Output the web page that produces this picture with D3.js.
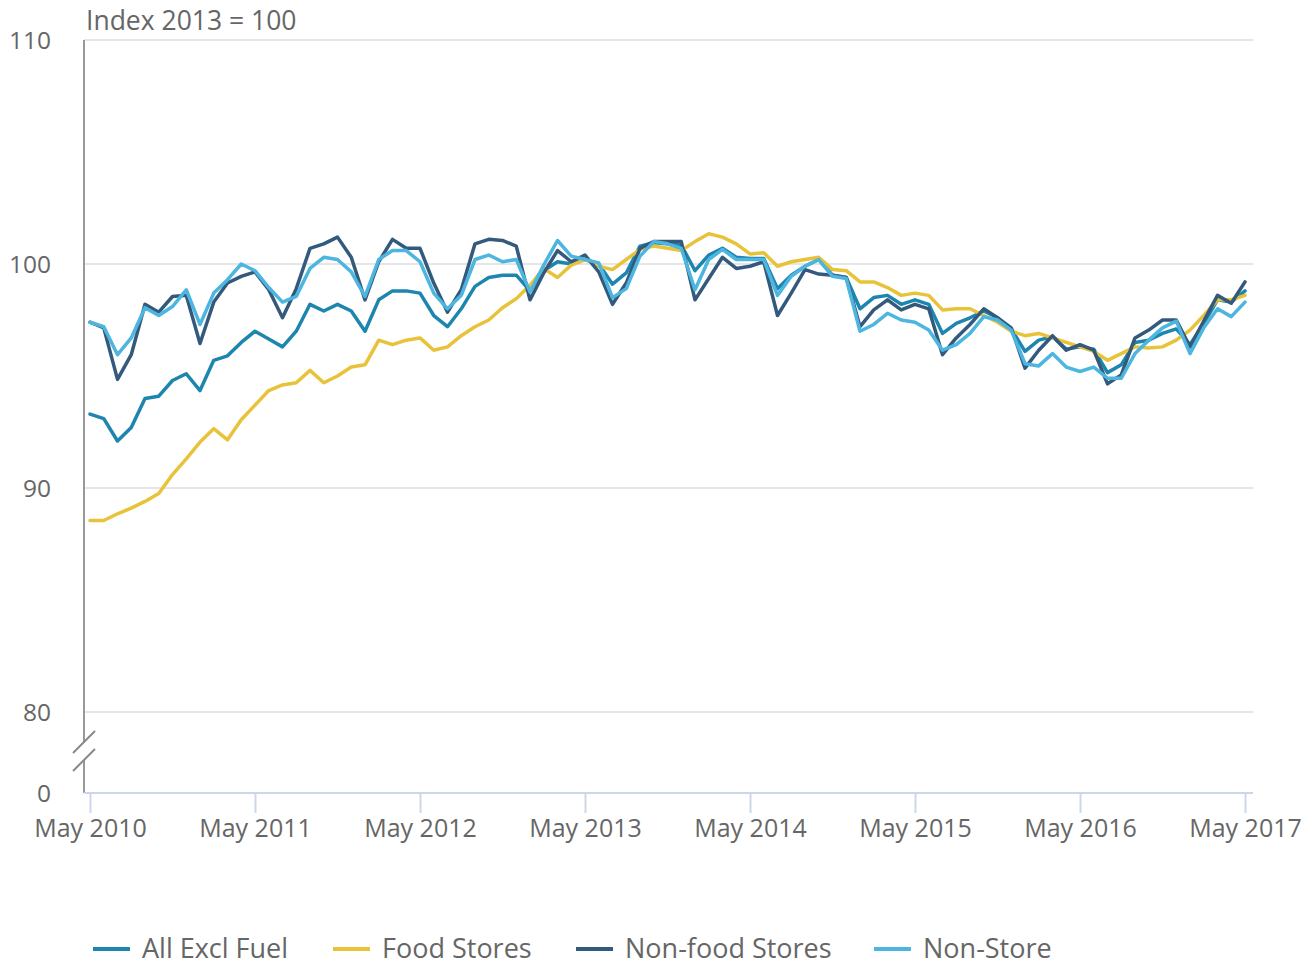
<!DOCTYPE html>
<html>
<head>
<meta charset="utf-8">
<script src="https://cdn.jsdelivr.net/npm/d3@7"></script>
<style>
  html, body { margin: 0; padding: 0; background: #fff; }
  svg { display: block; font-family: "Open Sans", sans-serif; }
</style>
</head>
<body>
<div id="chart"></div>
<script>
// monthly index values, May 2010 .. May 2017 (85 months)
const allExclFuel = [
  93.3, 93.1, 92.1, 92.7, 94.0, 94.1, 94.8, 95.1, 94.35, 95.7, 95.9, 96.5, 97.0, 96.65, 96.3, 97.0, 98.2, 97.9, 98.2,
  97.9, 97.0, 98.4, 98.8, 98.8, 98.7, 97.7, 97.2, 98.0, 99.0, 99.4, 99.5, 99.5, 98.8, 99.7, 100.1, 100.0, 100.2,
  100.0, 99.1, 99.6, 100.8, 100.95, 100.9, 100.85, 99.7, 100.4, 100.7, 100.3, 100.25, 100.25, 98.9, 99.5, 99.9, 100.2,
  99.5, 99.4, 98.0, 98.5, 98.6, 98.2, 98.4, 98.2, 96.9, 97.35, 97.6, 97.9, 97.6, 97.1, 96.1, 96.6, 96.75,
  96.2, 96.3, 96.2, 95.15, 95.5, 96.5, 96.6, 96.9, 97.1, 96.4, 97.35, 98.4, 98.3, 98.8
];
const foodStores = [
  88.55, 88.55, 88.85, 89.1, 89.4, 89.75, 90.6, 91.3, 92.05, 92.65, 92.15, 93.05, 93.7, 94.35, 94.6, 94.7, 95.25, 94.7, 95.0,
  95.4, 95.5, 96.6, 96.4, 96.6, 96.7, 96.15, 96.3, 96.8, 97.2, 97.5, 98.05, 98.45, 99.05, 99.8, 99.4, 99.95, 100.2,
  99.9, 99.75, 100.2, 100.65, 100.8, 100.7, 100.6, 101.0, 101.35, 101.2, 100.9, 100.45, 100.5, 99.9, 100.1, 100.2, 100.3,
  99.75, 99.7, 99.2, 99.2, 98.95, 98.6, 98.7, 98.6, 97.95, 98.0, 98.0, 97.7, 97.4, 97.0, 96.8, 96.9, 96.7,
  96.5, 96.3, 96.1, 95.7, 96.0, 96.3, 96.25, 96.3, 96.6, 97.05, 97.7, 98.4, 98.4, 98.6
];
const nonFoodStores = [
  97.4, 97.15, 94.85, 95.95, 98.2, 97.85, 98.55, 98.6, 96.45, 98.3, 99.15, 99.45, 99.65, 98.85, 97.6, 98.9, 100.7, 100.9, 101.2,
  100.3, 98.4, 100.1, 101.1, 100.7, 100.7, 99.15, 97.85, 98.85, 100.9, 101.1, 101.05, 100.8, 98.4, 99.6, 100.6, 100.1, 100.4,
  99.65, 98.2, 99.15, 100.7, 101.0, 101.0, 101.0, 98.4, 99.35, 100.3, 99.8, 99.9, 100.1, 97.7, 98.7, 99.75, 99.55,
  99.5, 99.4, 97.2, 97.95, 98.4, 97.95, 98.2, 98.0, 95.95, 96.7, 97.3, 98.0, 97.6, 97.15, 95.35, 96.15, 96.8,
  96.15, 96.4, 96.15, 94.65, 95.05, 96.7, 97.05, 97.5, 97.5, 96.3, 97.45, 98.6, 98.25, 99.2
];
const nonStore = [
  97.4, 97.2, 95.95, 96.7, 98.05, 97.7, 98.1, 98.85, 97.3, 98.7, 99.3, 100.0, 99.7, 98.95, 98.3, 98.55, 99.8, 100.3, 100.2,
  99.65, 98.55, 100.2, 100.6, 100.6, 100.1, 98.7, 98.0, 98.6, 100.2, 100.4, 100.1, 100.2, 98.75, 99.95, 101.05, 100.35, 100.2,
  100.05, 98.5, 98.9, 100.35, 101.0, 100.9, 100.7, 98.85, 100.2, 100.65, 100.2, 100.2, 100.2, 98.6, 99.45, 99.9, 100.2,
  99.45, 99.35, 97.0, 97.3, 97.8, 97.5, 97.4, 97.05, 96.15, 96.4, 96.9, 97.65, 97.5, 97.05, 95.55, 95.45, 96.0,
  95.4, 95.2, 95.4, 94.9, 94.9, 96.0, 96.6, 97.15, 97.45, 96.0, 97.15, 98.0, 97.65, 98.3
];
const seriesNames = ["All Excl Fuel", "Food Stores", "Non-food Stores", "Non-Store"];
const seriesColors = ["#1d86ae", "#e8c33a", "#335a7d", "#4cb6e0"];
const xTickLabels = ["May 2010", "May 2011", "May 2012", "May 2013", "May 2014", "May 2015", "May 2016", "May 2017"];
const yTicks = [0, 80, 90, 100, 110];

const width = 1315, height = 961;
const plot = { left: 84, right: 1253, top: 40, bottom: 793 };

const svg = d3.select("#chart").append("svg")
  .attr("width", width)
  .attr("height", height);

const xScale = d3.scaleLinear().domain([0, 84]).range([90, 1245]);
// broken axis: 0 -> 80 squeezed into the bottom strip
const yScale = d3.scaleLinear().domain([0, 80, 110]).range([plot.bottom, 712, plot.top]);

// grid lines (80..110)
svg.append("g")
  .selectAll("line")
  .data(yTicks.filter((t) => t >= 80))
  .join("line")
  .attr("x1", plot.left)
  .attr("x2", plot.right)
  .attr("y1", (d) => yScale(d))
  .attr("y2", (d) => yScale(d))
  .attr("stroke", "#e6e6e6")
  .attr("stroke-width", 2);

// y labels
svg.append("g")
  .selectAll("text")
  .data(yTicks)
  .join("text")
  .attr("x", 51)
  .attr("y", (d) => yScale(d))
  .attr("dy", "0.35em")
  .attr("text-anchor", "end")
  .attr("fill", "#666")
  .attr("font-size", 24.5)
  .text((d) => d);

svg.append("text")
  .attr("x", 86)
  .attr("y", 30)
  .attr("fill", "#666")
  .attr("font-size", 26.5)
  .text("Index 2013 = 100");

// y axis line with break
const breakTop = 742, breakBottom = 760;
svg.append("line")
  .attr("x1", plot.left).attr("x2", plot.left)
  .attr("y1", plot.top).attr("y2", breakTop)
  .attr("stroke", "#999").attr("stroke-width", 2);
svg.append("line")
  .attr("x1", plot.left).attr("x2", plot.left)
  .attr("y1", breakBottom).attr("y2", plot.bottom)
  .attr("stroke", "#999").attr("stroke-width", 2);
[0, 18].forEach((off) => {
  svg.append("line")
    .attr("x1", 73).attr("y1", 753 + off)
    .attr("x2", 95).attr("y2", 731 + off)
    .attr("stroke", "#888").attr("stroke-width", 2);
});

// x axis
const xAxis = d3.axisBottom(xScale)
  .tickValues(d3.range(0, 85, 12))
  .tickFormat((d, i) => xTickLabels[i])
  .tickSize(20)
  .tickSizeOuter(0);
const xAxisGroup = svg.append("g")
  .attr("transform", `translate(0,${plot.bottom})`)
  .call(xAxis);
xAxisGroup.select(".domain").remove();
xAxisGroup.selectAll("line").attr("stroke", "#ccd6eb").attr("stroke-width", 2);
xAxisGroup.selectAll("text")
  .attr("fill", "#666")
  .attr("font-size", 25)
  .attr("font-family", "Open Sans, sans-serif")
  .attr("y", 26)
  .attr("dy", "0.71em");
svg.append("line")
  .attr("x1", plot.left).attr("x2", plot.right)
  .attr("y1", plot.bottom).attr("y2", plot.bottom)
  .attr("stroke", "#ccd6eb").attr("stroke-width", 2);

// lines
const seriesData = [allExclFuel, foodStores, nonFoodStores, nonStore];
const line = d3.line()
  .x((d, i) => xScale(i))
  .y((d) => yScale(d));

svg.append("g")
  .selectAll("path")
  .data(seriesData)
  .join("path")
  .attr("d", line)
  .attr("fill", "none")
  .attr("stroke", (d, i) => seriesColors[i])
  .attr("stroke-width", 3.5)
  .attr("stroke-linejoin", "round")
  .attr("stroke-linecap", "round");

// legend (flat: symbols then labels)
const legendX = [93, 333, 576, 874];
const legendY = 949;
const legendG = svg.append("g").attr("class", "legend");
legendG.selectAll("line")
  .data(seriesNames)
  .join("line")
  .attr("x1", (d, i) => legendX[i])
  .attr("x2", (d, i) => legendX[i] + 37)
  .attr("y1", legendY)
  .attr("y2", legendY)
  .attr("stroke", (d, i) => seriesColors[i])
  .attr("stroke-width", 4);
legendG.selectAll("text")
  .data(seriesNames)
  .join("text")
  .attr("x", (d, i) => legendX[i] + 49)
  .attr("y", legendY)
  .attr("dy", "0.35em")
  .attr("fill", "#666")
  .attr("font-size", 27)
  .text((d) => d);
</script>
</body>
</html>
